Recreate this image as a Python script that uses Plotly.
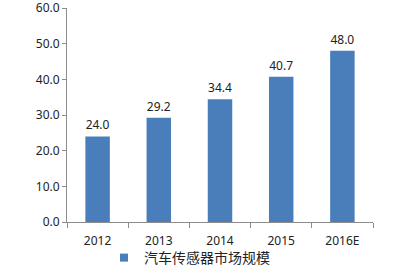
import plotly.graph_objects as go

categories = ["2012", "2013", "2014", "2015", "2016E"]
values = [24.0, 29.2, 34.4, 40.7, 48.0]
series_name = "汽车传感器市场规模"
y_ticks = [0, 10, 20, 30, 40, 50, 60]

bar_color = "#4A7EBB"
axis_color = "#8C8C8C"
font_family = "Noto Sans, Noto Sans CJK SC, sans-serif"

xs = list(range(len(categories)))

fig = go.Figure()
fig.add_trace(go.Bar(
    x=xs, y=values, name=series_name, showlegend=False,
    marker=dict(color=bar_color, line=dict(width=0)),
    width=0.4,
    text=[f"{v:.1f}" for v in values],
    textposition="outside",
    textfont=dict(size=12, color="#222222", family=font_family),
    cliponaxis=False,
))
# legend entry with a small square marker
fig.add_trace(go.Scatter(
    x=[None], y=[None], mode="markers", name=series_name,
    marker=dict(symbol="square", size=8, color=bar_color),
))
# invisible trace for boundary ticks on overlay axis
fig.add_trace(go.Scatter(x=[-0.5, len(categories) - 0.5], y=[0, 0], xaxis="x2",
                         mode="markers", marker=dict(opacity=0), showlegend=False,
                         hoverinfo="skip"))

fig.update_layout(
    width=408, height=269,
    margin=dict(l=67, r=35, t=8, b=47),
    paper_bgcolor="white", plot_bgcolor="white",
    font=dict(family=font_family, size=12, color="#222222"),
    xaxis=dict(
        range=[-0.5, len(categories) - 0.5],
        tickvals=xs, ticktext=categories,
        ticks="", showline=True, linecolor=axis_color, linewidth=1,
        showgrid=False, zeroline=False, ticklabelstandoff=8,
        tickfont=dict(size=12, color="#222222"), automargin=False,
    ),
    xaxis2=dict(
        range=[-0.5, len(categories) - 0.5],
        overlaying="x", anchor="y", side="bottom",
        tickvals=[i - 0.5 for i in range(len(categories) + 1)],
        ticks="outside", ticklen=5, tickcolor=axis_color,
        showticklabels=False, showgrid=False, zeroline=False, showline=False,
    ),
    yaxis=dict(
        range=[0, 60], tickvals=y_ticks, tickformat=".1f",
        ticks="outside", ticklen=4, tickcolor=axis_color,
        showline=True, linecolor=axis_color, linewidth=1,
        showgrid=False, zeroline=False, automargin=False,
        ticklabeloverflow="allow",
        tickfont=dict(size=12, color="#222222"),
    ),
    showlegend=True,
    legend=dict(
        orientation="h", xref="container", yref="container",
        x=104 / 408, xanchor="left", y=(269 - 258) / 269, yanchor="middle",
        font=dict(size=14, color="#222222"),
        itemwidth=30, tracegroupgap=0, bgcolor="rgba(0,0,0,0)",
    ),
)

fig.write_html("out.html")
